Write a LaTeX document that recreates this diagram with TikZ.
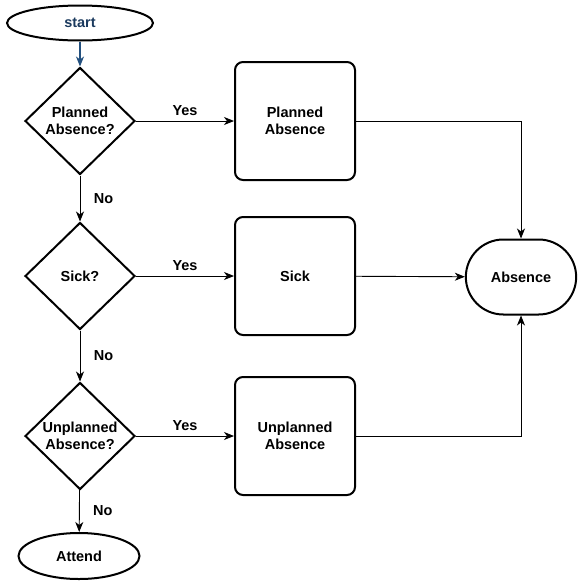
\documentclass[tikz,border=0pt]{standalone}
\usepackage{fontspec}
\setmainfont{Liberation Sans}
\usetikzlibrary{arrows.meta,positioning,shapes.geometric,shapes.misc,calc}
\definecolor{startblue}{HTML}{1B3A5E}
\definecolor{startline}{HTML}{23507F}

\begin{document}
\begin{tikzpicture}[x=1pt,y=-1pt,font=\fontsize{14.5}{16.5}\selectfont\bfseries,
    >={Stealth[length=10pt,width=8pt,inset=3pt]}]
    \tikzstyle{term}=[draw,ellipse,line width=2pt,inner sep=0pt,minimum width=146,minimum height=35]
    \tikzstyle{dec}=[draw,diamond,line width=2pt,inner sep=0pt,minimum width=110,minimum height=107,align=center]
    \tikzstyle{proc}=[draw,rounded corners=8pt,line width=2pt,minimum width=120,minimum height=118,align=center]
    \tikzstyle{stad}=[draw,rounded rectangle,line width=2pt,minimum width=117,minimum height=75]
    \tikzstyle{link}=[->,line width=0.9pt]
    \useasboundingbox (0,0) rectangle (581,581);
    % left column
    \node[term] (st) at (80,23) {\textcolor{startblue}{start}};
    \node[dec] (q1) at (80,121) {Planned\\Absence?};
    \node[dec] (q2) at (80,276) {Sick?};
    \node[dec] (q3) at (80,436) {Unplanned\\Absence?};
    \node[term,minimum width=121,minimum height=46] (at) at (79,556) {Attend};
    % middle column
    \node[proc] (p1) at (295,121) {Planned\\Absence};
    \node[proc] (p2) at (295,276) {Sick};
    \node[proc] (p3) at (295,436) {Unplanned\\Absence};
    % right
    \node[stad] (ab) at (521,277) {Absence};
    \draw[link,startline,line width=1.2pt] (st) -- (q1);
    \draw[link] (q1) -- node[above=2pt]{Yes} (p1);
    \draw[link] (q2) -- node[above=2pt]{Yes} (p2);
    \draw[link] (q3) -- node[above=2pt]{Yes} (p3);
    \draw[link] (q1) -- node[right=10pt]{No} (q2);
    \draw[link] (q2) -- node[right=10pt]{No} (q3);
    \draw[link] (q3) -- node[right=10pt]{No} (at);
    \draw[link] (p1.east) -| (ab.north);
    \draw[link] (p2) -- (ab);
    \draw[link] (p3.east) -| (ab.south);
\end{tikzpicture}
\end{document}
